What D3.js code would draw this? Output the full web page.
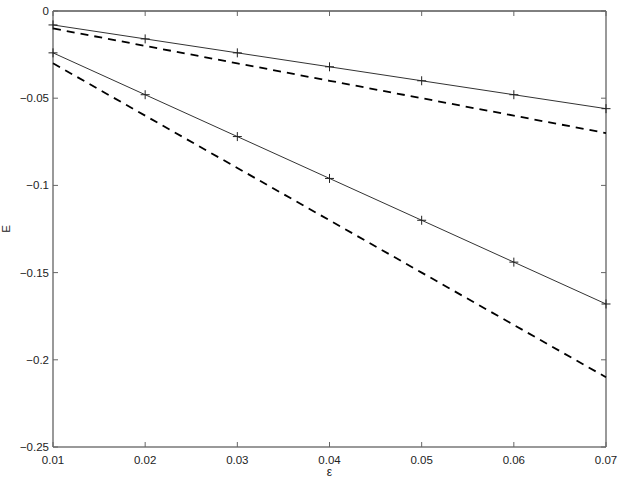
<!DOCTYPE html>
<html>
<head>
<meta charset="utf-8">
<script src="https://cdn.jsdelivr.net/npm/d3@7"></script>
<style>
  body { margin: 0; background: #fff; }
  text { font-family: "Liberation Sans", Arial, sans-serif; }
</style>
</head>
<body>
<div id="chart"></div>
<script>
// data
const eps = [0.01, 0.02, 0.03, 0.04, 0.05, 0.06, 0.07];
const solidUpper = [-0.008, -0.016, -0.024, -0.032, -0.040, -0.048, -0.056];
const dashedUpper = [-0.01, -0.02, -0.03, -0.04, -0.05, -0.06, -0.07];
const solidLower = [-0.024, -0.048, -0.072, -0.096, -0.120, -0.144, -0.168];
const dashedLower = [-0.03, -0.06, -0.09, -0.12, -0.15, -0.18, -0.21];
const xTicks = [0.01, 0.02, 0.03, 0.04, 0.05, 0.06, 0.07];
const yTicks = [0, -0.05, -0.1, -0.15, -0.2, -0.25];

const W = 623, H = 482;
const margin = { top: 11, right: 17, bottom: 35, left: 53 };
const width = W - margin.left - margin.right;
const height = H - margin.top - margin.bottom;

const svg = d3.select("#chart").append("svg")
  .attr("width", W).attr("height", H);

const g = svg.append("g")
  .attr("transform", `translate(${margin.left},${margin.top})`);

const x = d3.scaleLinear().domain([0.01, 0.07]).range([0, width]);
const y = d3.scaleLinear().domain([-0.25, 0]).range([height, 0]);

const fmtY = d => d === 0 ? "0" : "\u2212" + String(Math.abs(d)).replace(/^0/, "0");

// box
g.append("line").attr("x1", 0).attr("x2", width).attr("y1", 0).attr("y2", 0)
  .attr("stroke", "#000").attr("stroke-width", 1);
g.append("line").attr("x1", 0).attr("x2", width).attr("y1", height).attr("y2", height)
  .attr("stroke", "#777").attr("stroke-width", 1.5);
g.append("line").attr("x1", 0).attr("x2", 0).attr("y1", 0).attr("y2", height)
  .attr("stroke", "#777").attr("stroke-width", 1.5);
g.append("line").attr("x1", width).attr("x2", width).attr("y1", 0).attr("y2", height)
  .attr("stroke", "#777").attr("stroke-width", 1.5);

// inward ticks on all four sides
const tk = 5;
xTicks.forEach(t => {
  g.append("line").attr("x1", x(t)).attr("x2", x(t)).attr("y1", height).attr("y2", height - tk)
    .attr("stroke", "#666");
  g.append("line").attr("x1", x(t)).attr("x2", x(t)).attr("y1", 0).attr("y2", tk)
    .attr("stroke", "#666");
});
yTicks.forEach(t => {
  g.append("line").attr("x1", 0).attr("x2", tk).attr("y1", y(t)).attr("y2", y(t))
    .attr("stroke", "#666");
  g.append("line").attr("x1", width).attr("x2", width - tk).attr("y1", y(t)).attr("y2", y(t))
    .attr("stroke", "#666");
});

// tick labels
g.selectAll(".xl").data(xTicks).enter().append("text")
  .attr("x", d => x(d)).attr("y", height + 17)
  .attr("text-anchor", "middle").attr("font-size", 11.5).attr("fill", "#222")
  .text(d => d.toFixed(2));
g.selectAll(".yl").data(yTicks).enter().append("text")
  .attr("x", -4).attr("y", d => y(d)).attr("dy", "0.35em")
  .attr("text-anchor", "end").attr("font-size", 11.5).attr("fill", "#222")
  .text(d => d === 0 ? "0" : fmtY(d));

// axis labels
svg.append("text").attr("x", margin.left + width / 2).attr("y", 476)
  .attr("text-anchor", "middle").attr("font-size", 12).attr("fill", "#222").text("\u03b5");
svg.append("text").attr("transform", `translate(10,${margin.top + height / 2}) rotate(-90)`)
  .attr("text-anchor", "middle").attr("font-size", 11.5).attr("fill", "#222").text("E");

const line = d3.line().x((d, i) => x(eps[i])).y(d => y(d));

// dashed lines
[dashedUpper, dashedLower].forEach(s => {
  g.append("path").datum(s).attr("d", line)
    .attr("fill", "none").attr("stroke", "#000").attr("stroke-width", 1.8)
    .attr("stroke-dasharray", "8,6");
});

// solid lines with plus markers
[solidUpper, solidLower].forEach(s => {
  g.append("path").datum(s).attr("d", line)
    .attr("fill", "none").attr("stroke", "#333").attr("stroke-width", 1);
  g.selectAll(null).data(s).enter().append("path")
    .attr("d", (d, i) => {
      const cx = x(eps[i]), cy = y(d), r = 4.5;
      return `M${cx - r},${cy}H${cx + r}M${cx},${cy - r}V${cy + r}`;
    })
    .attr("stroke", "#222").attr("stroke-width", 1);
});
</script>
</body>
</html>
